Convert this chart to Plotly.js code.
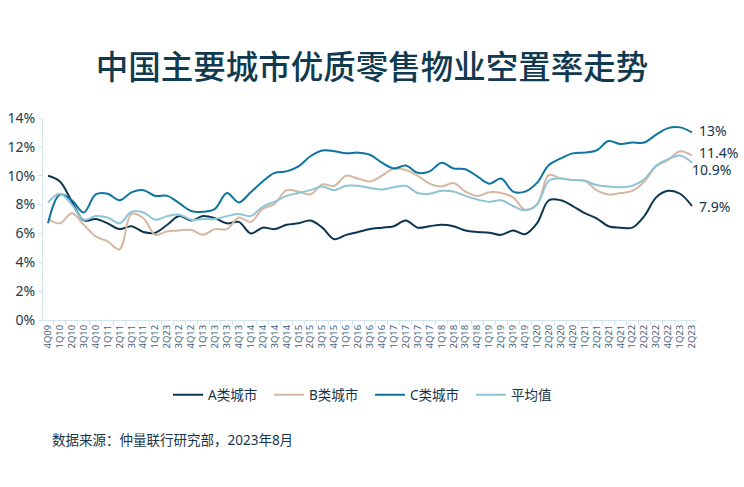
<!DOCTYPE html>
<html>
<head>
<meta charset="utf-8">
<script src="https://cdn.plot.ly/plotly-3.0.1.min.js"></script>
<style>html,body{margin:0;padding:0;background:#fff;}#chart{width:744px;height:487px;}</style>
</head>
<body>
<div id="chart"></div>
<script>
const quarters = ["4Q09","1Q10","2Q10","3Q10","4Q10","1Q11","2Q11","3Q11","4Q11","1Q12","2Q23","3Q12","4Q12",
  "1Q13","2Q13","3Q13","4Q13","1Q14","2Q14","3Q14","4Q14","1Q15","2Q15","3Q15","4Q15","1Q16","2Q16","3Q16","4Q16",
  "1Q17","2Q17","3Q17","4Q17","1Q18","2Q18","3Q18","4Q18","1Q19","2Q19","3Q19","4Q19","1Q20","2Q20","3Q20","4Q20",
  "1Q21","2Q21","3Q21","4Q21","1Q22","2Q22","3Q22","4Q22","1Q23","2Q23"];

const cityA = [10.0,9.6,8.2,6.9,7.0,6.7,6.3,6.5,6.1,6.05,6.6,7.2,6.9,7.2,7.05,6.7,6.8,6.0,6.4,6.3,6.6,6.7,6.9,6.4,5.6,5.9,6.1,6.3,6.4,6.5,6.9,6.4,6.5,6.6,6.5,6.2,6.1,6.05,5.9,6.2,5.95,6.7,8.3,8.3,7.9,7.4,7.05,6.5,6.4,6.4,7.2,8.5,8.95,8.75,7.9];
const cityB = [7.0,6.7,7.4,6.6,5.8,5.45,4.9,7.35,7.05,5.9,6.15,6.2,6.25,5.9,6.3,6.3,7.1,6.8,7.7,8.05,9.0,8.9,8.7,9.4,9.3,10.0,9.8,9.6,10.0,10.5,10.4,10.0,9.45,9.25,9.5,8.9,8.6,8.85,8.8,8.5,7.65,8.0,10.05,9.8,9.7,9.65,9.0,8.7,8.8,8.95,9.6,10.65,11.1,11.7,11.4];
const cityC = [6.7,8.7,8.3,7.45,8.7,8.75,8.3,8.85,9.0,8.6,8.6,8.1,7.55,7.5,7.7,8.8,8.15,8.85,9.6,10.2,10.3,10.65,11.35,11.75,11.7,11.55,11.6,11.45,10.9,10.5,10.7,10.2,10.3,10.9,10.5,10.45,9.95,9.45,9.8,8.9,8.9,9.5,10.75,11.2,11.55,11.6,11.75,12.4,12.2,12.3,12.3,12.85,13.3,13.35,13.0];
const average = [8.15,8.75,8.0,6.95,7.2,7.1,6.7,7.5,7.45,6.95,7.2,7.3,6.95,7.0,7.0,7.2,7.35,7.2,7.85,8.2,8.6,8.8,9.0,9.25,9.0,9.3,9.3,9.15,9.05,9.2,9.3,8.8,8.75,8.95,8.9,8.6,8.35,8.2,8.3,7.9,7.6,8.0,9.65,9.8,9.7,9.65,9.35,9.25,9.2,9.3,9.75,10.7,11.15,11.4,10.9];

const seriesNames = ["A类城市","B类城市","C类城市","平均值"];
const endLabels = ["7.9%","11.4%","13%","10.9%"];

const idx = quarters.map((q,i)=>i);
const colors = ["#0b3550","#d6b7a2","#0d74a0","#8fc4d6"];
const data = [cityA, cityB, cityC, average];

const traces = data.map((ys,k)=>({
  x: idx, y: ys, type:'scatter', mode:'lines', name: seriesNames[k],
  line:{color:colors[k], width:2, shape:'spline', smoothing:1}
}));
const font = "Noto Sans, 'Noto Sans CJK SC', sans-serif";
const last = idx.length-1;
const labelOffsets = [{y:7.85,dx:5},{y:11.6,dx:5},{y:13.1,dx:5},{y:10.4,dx:-2}];
const ann = endLabels.map((t,k)=>({
  x:last, y:labelOffsets[k].y, xref:'x', yref:'y', text:t, showarrow:false,
  xanchor:'left', yanchor:'middle', xshift:labelOffsets[k].dx,
  font:{family:font, size:14, color:'#12344a'}
}));
ann.push({
  xref:'paper', yref:'paper', x:(50-43)/654, y:-(440-320)/202, xanchor:'left', yanchor:'middle',
  text:"数据来源：仲量联行研究部，2023年8月", showarrow:false,
  font:{family:font, size:13.5, color:'#163447'}
});

const layout = {
  width:744, height:487,
  margin:{l:43, r:47, t:118, b:167},
  paper_bgcolor:'#fff', plot_bgcolor:'#fff',
  title:{text:"中国主要城市优质零售物业空置率走势", x:0.5, xanchor:'center', y:1-68/487, yanchor:'middle',
    font:{family:font, size:32.5, color:'#0f3a50', weight:500}},
  showlegend:true,
  legend:{orientation:'h', x:0.5, xanchor:'center', y:-75/202, yanchor:'middle',
    font:{family:font, size:13.5, color:'#163447'}, itemwidth:30, traceorder:'normal',
    entrywidth:56, entrywidthmode:'pixels'},
  xaxis:{range:[-0.42,54.42], tickmode:'array', tickvals:idx, ticktext:quarters, tickangle:-90,
    tickfont:{family:font, size:9.5, color:'#44627a'}, ticks:'', showgrid:false, zeroline:false,
    showline:true, linecolor:'#d3e5ec', linewidth:1,
    minor:{ticks:'outside', tick0:-0.5, dtick:1, ticklen:4, tickcolor:'#d3e5ec', showgrid:false}},
  yaxis:{range:[0,14], dtick:2, tick0:0, ticksuffix:'%', showgrid:false, zeroline:false,
    showline:true, linecolor:'#d3e5ec', linewidth:1, ticks:'outside', ticklen:4, tickcolor:'#d3e5ec',
    tickfont:{family:font, size:14, color:'#1a3a50'}},
  annotations:ann
};
Plotly.newPlot('chart', traces, layout, {displayModeBar:false, staticPlot:true});
</script>
</body>
</html>
